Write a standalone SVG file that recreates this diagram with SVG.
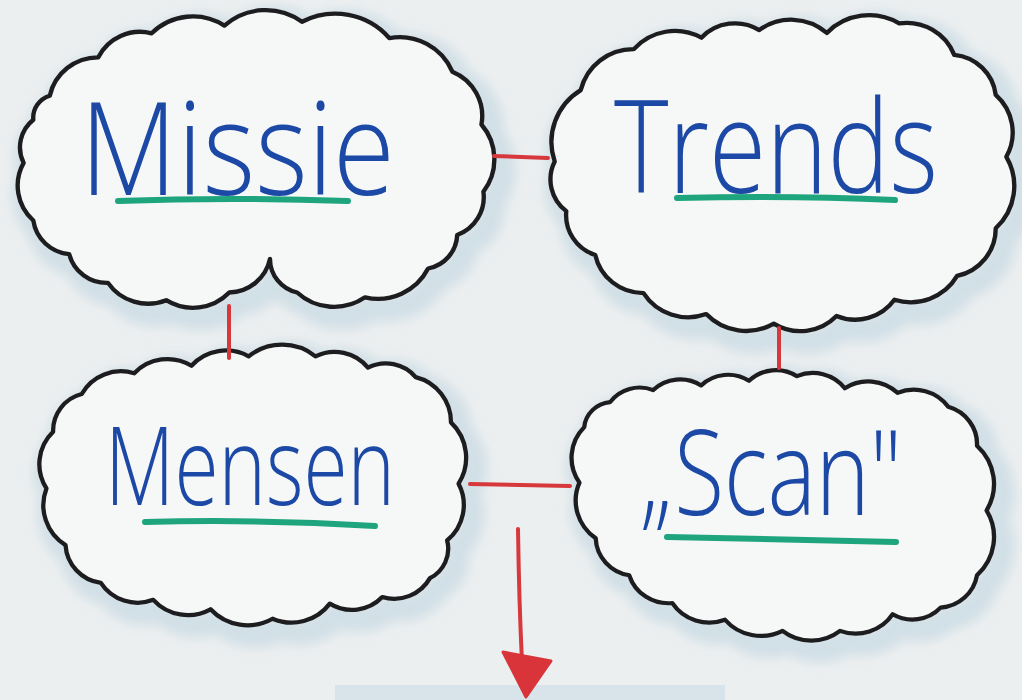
<svg xmlns="http://www.w3.org/2000/svg" xmlns:xlink="http://www.w3.org/1999/xlink" width="1022" height="700" viewBox="0 0 1022 700">
  <defs>
    <filter id="blur" x="-10%" y="-10%" width="120%" height="120%">
      <feGaussianBlur stdDeviation="6"/>
    </filter>
    <path id="cloudMissie" d="M45 95 A51 51 0 0 1 95 55 A48 48 0 0 1 150 30 A60 60 0 0 1 225 22 A64 64 0 0 1 305 18 A74 74 0 0 1 395 35 A59 59 0 0 1 460 70 A50 50 0 0 1 490 125 A56 56 0 0 1 492 195 A42 42 0 0 1 465 240 A37 37 0 0 1 435 275 A58 58 0 0 1 370 305 A56 56 0 0 1 300 300 A36 36 0 0 1 272 265 A44 44 0 0 1 230 300 A52 52 0 0 1 165 308 A50 50 0 0 1 105 290 A40 40 0 0 1 65 260 A41 41 0 0 1 28 225 A49 49 0 0 1 18 165 A37 37 0 0 1 28 120 A24 24 0 0 1 45 95 Z"/>
    <path id="cloudTrends" d="M548 160 A64 64 0 0 1 575 85 A56 56 0 0 1 630 42 A57 57 0 0 1 700 30 A48 48 0 0 1 760 22 A56 56 0 0 1 830 25 A61 61 0 0 1 905 15 A53 53 0 0 1 962 48 A48 48 0 0 1 1005 90 A53 53 0 0 1 1016 155 A61 61 0 0 1 1005 230 A51 51 0 0 1 965 280 A56 56 0 0 1 900 305 A50 50 0 0 1 840 322 A52 52 0 0 1 775 330 A57 57 0 0 1 705 320 A55 55 0 0 1 640 298 A51 51 0 0 1 590 258 A44 44 0 0 1 560 212 A42 42 0 0 1 548 160 Z"/>
    <path id="cloudMensen" d="M45 430 A40 40 0 0 1 75 390 A47 47 0 0 1 130 368 A48 48 0 0 1 190 360 A49 49 0 0 1 250 350 A56 56 0 0 1 320 350 A45 45 0 0 1 375 362 A41 41 0 0 1 425 372 A49 49 0 0 1 462 420 A52 52 0 0 1 470 485 A49 49 0 0 1 458 545 A35 35 0 0 1 440 585 A43 43 0 0 1 390 605 A44 44 0 0 1 335 612 A50 50 0 0 1 275 628 A53 53 0 0 1 210 618 A49 49 0 0 1 150 608 A46 46 0 0 1 95 590 A43 43 0 0 1 58 550 A50 50 0 0 1 38 490 A48 48 0 0 1 45 430 Z"/>
    <path id="cloudScan" d="M578 420 A30 30 0 0 1 605 393 A38 38 0 0 1 650 380 A40 40 0 0 1 700 375 A40 40 0 0 1 750 370 A40 40 0 0 1 800 365 A42 42 0 0 1 850 378 A44 44 0 0 1 905 383 A44 44 0 0 1 958 398 A42 42 0 0 1 988 440 A57 57 0 0 1 998 510 A57 57 0 0 1 988 580 A42 42 0 0 1 950 615 A40 40 0 0 1 900 622 A46 46 0 0 1 845 640 A48 48 0 0 1 785 640 A49 49 0 0 1 725 628 A46 46 0 0 1 670 610 A43 43 0 0 1 625 580 A42 42 0 0 1 590 540 A50 50 0 0 1 573 480 A48 48 0 0 1 578 420 Z"/>
  </defs>
  <style>
    .paper { fill: #eceff0; }
    .shadow { fill: none; stroke: #bcd3df; stroke-width: 28; opacity: 0.55; filter: url(#blur); }
    .cloud { fill: #f6f7f7; stroke: #1d1d20; stroke-width: 4.5; stroke-linejoin: round; vector-effect: non-scaling-stroke; }
    .label { font-family: "Open Sans", "Liberation Sans", sans-serif; font-weight: 300; fill: #1c48a6; }
    .under { stroke: #1ea57d; stroke-width: 6; stroke-linecap: round; fill: none; }
    .red { stroke: #d6383c; stroke-width: 4; stroke-linecap: round; fill: none; }
  </style>
  <rect class="paper" x="0" y="0" width="1022" height="700"/>
  <rect x="335" y="685" width="390" height="15" fill="#c9dbe4" opacity="0.55"/>

  <g id="node-missie">
    <g transform="translate(6.15 4.5) scale(0.97 0.96)">
      <use xlink:href="#cloudMissie" class="shadow" transform="translate(8 10)"/>
      <use xlink:href="#cloudMissie" class="cloud"/>
    </g>
    <text class="label" x="80" y="195" font-size="130" textLength="315" lengthAdjust="spacingAndGlyphs">Missie</text>
    <path class="under" d="M118 201 Q230 197 348 201"/>
  </g>

  <g id="node-trends">
    <g transform="translate(25.9 9.1) scale(0.965 0.953)">
      <use xlink:href="#cloudTrends" class="shadow" transform="translate(8 10)"/>
      <use xlink:href="#cloudTrends" class="cloud"/>
    </g>
    <text class="label" x="614" y="193" font-size="130" textLength="324" lengthAdjust="spacingAndGlyphs">Trends</text>
    <path class="under" d="M677 198 Q790 195 895 200"/>
  </g>

  <g id="node-mensen">
    <g transform="translate(10.2 25.9) scale(0.954 0.944)">
      <use xlink:href="#cloudMensen" class="shadow" transform="translate(8 10)"/>
      <use xlink:href="#cloudMensen" class="cloud"/>
    </g>
    <text class="label" x="105" y="505" font-size="108" textLength="290" lengthAdjust="spacingAndGlyphs">Mensen</text>
    <path class="under" d="M145 522 Q260 519 375 526"/>
  </g>

  <g id="node-scan">
    <g transform="translate(30.5 38.2) scale(0.958 0.926)">
      <use xlink:href="#cloudScan" class="shadow" transform="translate(8 10)"/>
      <use xlink:href="#cloudScan" class="cloud"/>
    </g>
    <text class="label" x="640" y="515" font-size="118" textLength="262" lengthAdjust="spacingAndGlyphs">„Scan"</text>
    <path class="under" d="M667 537 Q780 539 896 542"/>
  </g>

  <g id="connectors">
    <path class="red" d="M494 156 L548 158"/>
    <path class="red" d="M229 306 L229 358"/>
    <path class="red" d="M779 328 L779 368"/>
    <path class="red" d="M470 484 L570 486"/>
    <path class="red" d="M518 529 Q519 600 522 662"/>
    <path d="M503 652 L551 661 L526 697 Z" fill="#d8343a" stroke="#d8343a" stroke-width="3" stroke-linejoin="round"/>
  </g>
</svg>
